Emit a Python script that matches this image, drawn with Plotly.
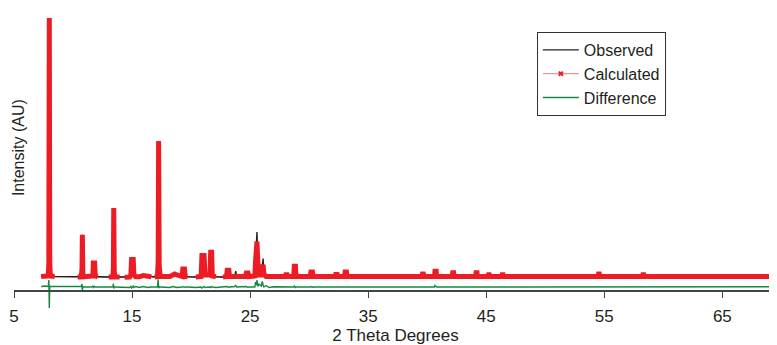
import plotly.graph_objects as go

# ---- data (2-theta in degrees, intensity in arbitrary counts) ----
two_theta = [
    7.30, 7.60, 7.90, 7.95, 7.99, 8.03, 8.08, 8.25, 8.44,
    10.39, 10.70, 10.76, 10.79, 10.83, 10.90, 11.55, 11.68, 11.72, 11.83, 11.88, 12.09,
    13.02, 13.38, 13.42, 13.45, 13.49, 13.55, 13.95,
    14.37, 14.80, 14.90, 14.96, 15.10, 15.16, 15.30, 15.60, 15.95, 16.30, 16.63,
    16.92, 17.15, 17.21, 17.25, 17.30, 17.38, 18.20, 18.45, 18.61, 18.80, 19.25, 19.30, 19.44, 19.50, 19.70,
    20.40, 20.85, 20.92, 21.10, 21.18, 21.60, 21.66, 21.74, 21.80, 22.10,
    22.70, 23.00, 23.06, 23.20, 23.26, 23.70, 23.78, 23.86, 24.60, 24.68, 24.82, 24.90,
    25.40, 25.46, 25.53, 25.58, 25.65, 25.75, 25.95, 26.03, 26.10, 26.17, 26.35, 26.60, 27.00,
    27.95, 28.02, 28.14, 28.20, 28.70, 28.74, 28.84, 28.88, 30.10, 30.15, 30.28, 30.34,
    32.20, 32.25, 32.38, 32.43, 33.00, 33.05, 33.16, 33.21, 35.90, 35.97, 36.05,
    39.55, 39.60, 39.68, 39.73, 40.62, 40.66, 40.76, 40.80, 42.12, 42.16, 42.24, 42.28,
    44.10, 44.14, 44.22, 44.26, 45.17, 45.20, 45.26, 45.30, 46.33, 46.36, 46.42, 46.45,
    47.24, 47.26, 47.31, 47.34, 49.22, 49.24, 49.30, 49.32, 50.41, 50.43, 50.49, 50.51,
    54.48, 54.52, 54.58, 54.62, 56.85, 56.87, 56.93, 56.95, 58.25, 58.28, 58.34, 58.37,
    61.65, 61.68, 61.72, 61.75, 69.65,
]
observed = [
    1450, 1450, 1500, 3500, 25200, 3000, 1500, 1450, 1450,
    1400, 1420, 2500, 5400, 1800, 1420, 1420, 1500, 2800, 2800, 1500, 1420,
    1400, 1420, 2500, 8300, 2000, 1420, 1400,
    1380, 1400, 1600, 3150, 3150, 1600, 1420, 1420, 1550, 1500, 1420,
    1400, 1450, 3000, 15000, 2500, 1450, 1450, 1600, 1700, 1600, 1450, 2200, 2200, 1450, 1420,
    1400, 1450, 3550, 3550, 1600, 1600, 3870, 3870, 1500, 1420,
    1400, 1450, 2070, 2070, 1450, 1450, 2000, 1450, 1450, 1800, 1800, 1450,
    1500, 3000, 4950, 5900, 3000, 1600, 1600, 2630, 3250, 1700, 1450, 1450, 1450,
    1450, 1630, 1630, 1450, 1450, 2470, 2470, 1450, 1450, 1900, 1900, 1450,
    1450, 1650, 1650, 1450, 1450, 1900, 1900, 1450, 1450, 1550, 1450,
    1450, 1700, 1700, 1450, 1450, 1970, 1970, 1450, 1450, 1830, 1830, 1450,
    1450, 1830, 1830, 1450, 1450, 1630, 1630, 1450, 1450, 1630, 1630, 1450,
    1450, 1570, 1570, 1450, 1450, 1570, 1570, 1450, 1450, 1570, 1570, 1450,
    1450, 1700, 1700, 1450, 1450, 1570, 1570, 1450, 1450, 1630, 1630, 1450,
    1450, 1530, 1530, 1450, 1450,
]
calculated = [
    1450, 1450, 1500, 2800, 27300, 2900, 1500, 1450, 1450,
    1400, 1420, 2200, 5630, 1800, 1420, 1420, 1500, 2800, 2800, 1500, 1420,
    1400, 1420, 2400, 8300, 2000, 1420, 1400,
    1380, 1400, 1600, 3150, 3150, 1600, 1420, 1420, 1550, 1500, 1420,
    1400, 1450, 2900, 15000, 2500, 1450, 1450, 1600, 1700, 1600, 1450, 2200, 2200, 1450, 1420,
    1400, 1450, 3550, 3550, 1600, 1600, 3870, 3870, 1500, 1420,
    1400, 1450, 2070, 2070, 1450, 1450, 1500, 1450, 1450, 1800, 1800, 1450,
    1500, 3000, 4950, 4950, 3000, 1600, 1600, 2630, 2630, 1700, 1450, 1450, 1450,
    1450, 1630, 1630, 1450, 1450, 2470, 2470, 1450, 1450, 1900, 1900, 1450,
    1450, 1650, 1650, 1450, 1450, 1900, 1900, 1450, 1450, 1550, 1450,
    1450, 1700, 1700, 1450, 1450, 1970, 1970, 1450, 1450, 1830, 1830, 1450,
    1450, 1830, 1830, 1450, 1450, 1630, 1630, 1450, 1450, 1630, 1630, 1450,
    1450, 1570, 1570, 1450, 1450, 1570, 1570, 1450, 1450, 1570, 1570, 1450,
    1450, 1700, 1700, 1450, 1450, 1570, 1570, 1450, 1450, 1630, 1630, 1450,
    1450, 1530, 1530, 1450, 1450,
]
difference = [
    450, 500, 450, 1100, -1700, 500, 450, 450, 450,
    450, 450, 700, 0, 450, 400, 400, 500, 350, 450, 400, 400,
    400, 400, 750, 250, 400, 400, 400,
    400, 350, 450, 300, 500, 350, 450, 350, 450, 350, 400,
    400, 400, 1170, 270, 450, 400, 350, 450, 400, 350, 400, 450, 350, 400, 400,
    350, 400, 300, 450, 350, 400, 350, 450, 400, 350,
    400, 400, 450, 350, 400, 450, 600, 400, 400, 450, 350, 400,
    400, 900, 600, 1100, 450, 700, 500, 950, 600, 400, 550, 350, 420,
    400, 450, 380, 400, 400, 500, 350, 400, 400, 450, 380, 400,
    400, 420, 400, 400, 400, 450, 380, 400, 400, 420, 400,
    400, 420, 400, 400, 400, 550, 400, 400, 400, 430, 400, 400,
    400, 430, 400, 400, 400, 420, 400, 400, 400, 420, 400, 400,
    420, 420, 420, 420, 420, 420, 420, 420, 420, 420, 420, 420,
    420, 440, 420, 420, 420, 420, 420, 420, 420, 430, 420, 420,
    420, 420, 420, 420, 420,
]
# excluded (unfitted) regions: calculated markers end at these angles and resume at the next point
gap_starts = [8.44, 12.09, 13.95, 16.63, 19.70, 22.10]
x_ticks = [5, 15, 25, 35, 45, 55, 65]

# build the thick "marker band" version of the calculated curve, broken at excluded regions
thick_x, thick_y = [], []
for t, c in zip(two_theta, calculated):
    thick_x.append(t)
    thick_y.append(c)
    if t in gap_starts:
        thick_x.append(None)
        thick_y.append(None)

RED = "#ed1c24"
GREEN = "#138a43"
BLACK = "#231f20"
FONT = "Liberation Sans, Arial, sans-serif"

fig = go.Figure()
fig.add_trace(go.Scatter(x=two_theta, y=calculated, mode="lines",
                         line=dict(color=RED, width=1), showlegend=False, hoverinfo="skip"))
fig.add_trace(go.Scatter(x=two_theta, y=observed, mode="lines", name="Observed",
                         line=dict(color=BLACK, width=1.4)))
fig.add_trace(go.Scatter(x=[None], y=[None], mode="lines+markers", name="Calculated",
                         line=dict(color="#f07a7e", width=1),
                         marker=dict(symbol="x", size=5, color=RED)))
fig.add_trace(go.Scatter(x=thick_x, y=thick_y, mode="lines", connectgaps=False,
                         line=dict(color=RED, width=5), showlegend=False, hoverinfo="skip"))
fig.add_trace(go.Scatter(x=two_theta, y=difference, mode="lines", name="Difference",
                         line=dict(color=GREEN, width=1.4)))

# page offset: the figure div sits 8 px in from the window's top-left corner
OFF = 8
W, H = 777 - OFF, 345 - OFF
PLOT_LEFT, PLOT_TOP, PLOT_BOTTOM = 14.4, 8, 315   # window pixels
axis_px = 291
ph = PLOT_BOTTOM - PLOT_TOP
pw = 777 - PLOT_LEFT

fig.update_layout(
    width=W, height=H,
    margin=dict(l=PLOT_LEFT - OFF, r=0, t=PLOT_TOP - OFF, b=345 - PLOT_BOTTOM, autoexpand=False),
    paper_bgcolor="white", plot_bgcolor="white",
    font=dict(family=FONT, size=16, color=BLACK),
    showlegend=True,
    legend=dict(x=(537 - PLOT_LEFT) / pw, y=(PLOT_BOTTOM - 32) / ph,
                xanchor="left", yanchor="top",
                bgcolor="white", bordercolor="#333333", borderwidth=1,
                itemwidth=36, tracegroupgap=0,
                font=dict(family=FONT, size=16, color=BLACK)),
    xaxis=dict(range=[5, 69.63], tickvals=x_ticks, ticks="outside", ticklen=6,
               tickcolor="#444444", tickwidth=1.3,
               showline=True, linecolor="#444444", linewidth=1.5,
               showgrid=False, zeroline=False,
               anchor="free",
               position=(PLOT_BOTTOM - axis_px) / ph,
               ticklabelstandoff=4,
               tickfont=dict(family=FONT, size=17, color=BLACK),
               title=dict(text="2 Theta Degrees", standoff=6,
                          font=dict(family=FONT, size=17, color=BLACK)),
               automargin=False),
    yaxis=dict(range=[(axis_px - PLOT_BOTTOM) * 100, (axis_px - PLOT_TOP) * 100],
               showticklabels=False, showgrid=False, zeroline=False, showline=False,
               ticks="", automargin=False),
    annotations=[dict(text="Intensity (AU)", textangle=-90, showarrow=False,
                      xref="paper", yref="paper",
                      x=(18.5 - PLOT_LEFT) / pw, y=(PLOT_BOTTOM - 148) / ph,
                      xanchor="center", yanchor="middle",
                      font=dict(family=FONT, size=16, color=BLACK))],
)

fig.write_html("out.html")
